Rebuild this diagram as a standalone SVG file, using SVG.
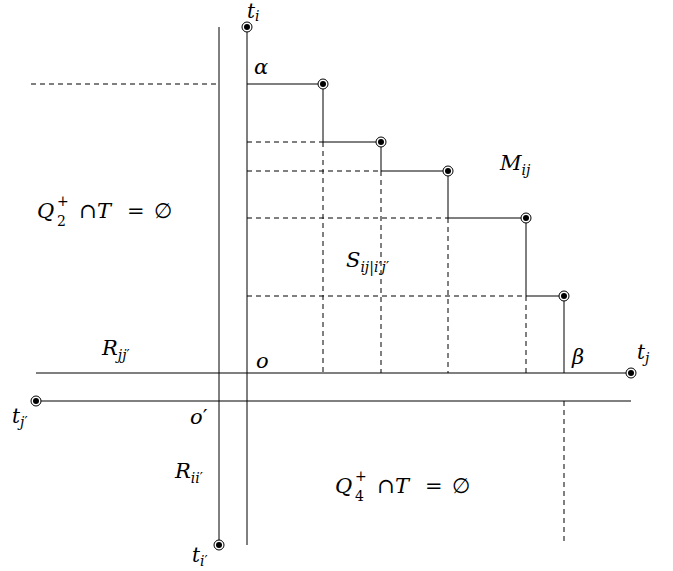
<svg xmlns="http://www.w3.org/2000/svg" width="673" height="571" viewBox="0 0 673 571">
<style>
.s{stroke:#000;stroke-width:1;fill:none}
.d{stroke:#000;stroke-width:1;fill:none;stroke-dasharray:5,4}
text{font-family:"DejaVu Serif",serif;font-style:italic;font-size:21px;fill:#000}
.r{font-style:normal}
.sub{font-size:14px}
.t{font-size:20px}
</style>
<defs>
<g id="pt"><circle r="5" fill="#fff" stroke="#000" stroke-width="1"/><circle r="3" fill="#000"/></g>
</defs>
<rect width="673" height="571" fill="#fff"/>
<g id="connectors">
<line class="s" x1="219" y1="27" x2="219" y2="545"/>
<line class="s" x1="247" y1="27" x2="247" y2="545"/>
<line class="s" x1="36" y1="373" x2="631" y2="373"/>
<line class="s" x1="36" y1="401" x2="631" y2="401"/>
<path class="s" d="M247,84H323V142H381V171H448V218H526V296H564V373"/>
<line class="d" x1="31" y1="84" x2="219" y2="84"/>
<line class="d" x1="247" y1="142" x2="323" y2="142"/>
<line class="d" x1="247" y1="171" x2="381" y2="171"/>
<line class="d" x1="247" y1="218" x2="448" y2="218"/>
<line class="d" x1="247" y1="296" x2="526" y2="296"/>
<line class="d" x1="323" y1="142" x2="323" y2="373"/>
<line class="d" x1="381" y1="171" x2="381" y2="373"/>
<line class="d" x1="448" y1="218" x2="448" y2="373"/>
<line class="d" x1="526" y1="296" x2="526" y2="373"/>
<line class="d" x1="564" y1="401" x2="564" y2="545"/>
</g>
<g id="ti"><use href="#pt" x="247" y="27"/><text class="t" x="247" y="18">t<tspan class="sub" dy="3">i</tspan></text></g>
<g id="tip"><use href="#pt" x="219" y="545"/><text class="t" x="192" y="562">t<tspan class="sub" dy="4">i<tspan class="r">′</tspan></tspan></text></g>
<g id="tj"><use href="#pt" x="631" y="373"/><text class="t" x="637" y="359">t<tspan class="sub" dy="4">j</tspan></text></g>
<g id="tjp"><use href="#pt" x="36" y="401"/><text class="t" x="12" y="423">t<tspan class="sub" dy="4">j<tspan class="r">′</tspan></tspan></text></g>
<g id="p1"><use href="#pt" x="323" y="84"/></g>
<g id="p2"><use href="#pt" x="381" y="142"/></g>
<g id="p3"><use href="#pt" x="448" y="171"/></g>
<g id="p4"><use href="#pt" x="526" y="218"/></g>
<g id="p5"><use href="#pt" x="564" y="296"/></g>
<g id="labels">
<text x="254" y="74">α</text>
<text x="572" y="364">β</text>
<text x="256" y="368">o</text>
<text x="190" y="424">o<tspan class="r">′</tspan></text>
<text x="500" y="170">M<tspan class="sub" dy="5">ij</tspan></text>
<text x="346" y="267">S<tspan class="sub" dy="5">ij|i<tspan class="r">′</tspan>j<tspan class="r">′</tspan></tspan></text>
<text x="102" y="355">R<tspan class="sub" dy="5">jj<tspan class="r">′</tspan></tspan></text>
<text x="175" y="478">R<tspan class="sub" dy="5">ii<tspan class="r">′</tspan></tspan></text>
<text x="37" y="218">Q<tspan class="sub r" x="57" y="226">2</tspan><tspan class="sub r" x="57" y="206">+</tspan><tspan class="r" x="79" y="218">∩</tspan><tspan x="97" y="218">T</tspan><tspan class="r" x="127" y="218">=</tspan><tspan class="r" x="154" y="218">∅</tspan></text>
<text x="335" y="493">Q<tspan class="sub r" x="355" y="501">4</tspan><tspan class="sub r" x="355" y="481">+</tspan><tspan class="r" x="377" y="493">∩</tspan><tspan x="395" y="493">T</tspan><tspan class="r" x="425" y="493">=</tspan><tspan class="r" x="452" y="493">∅</tspan></text>
</g>
</svg>
